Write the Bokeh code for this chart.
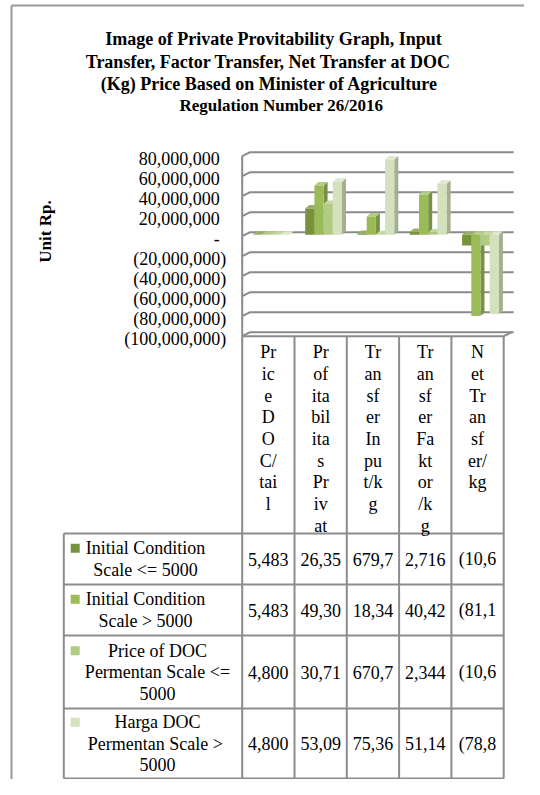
import math
from bokeh.plotting import figure
from bokeh.models import Range1d
from bokeh.core.properties import value
from bokeh.embed import file_html
from bokeh.resources import INLINE

# ---------------- data ----------------
TITLE_LINES = [
    "Image of Private Provitability Graph, Input",
    "Transfer, Factor Transfer, Net Transfer at DOC",
    "(Kg) Price Based on Minister of Agriculture",
    "Regulation Number  26/2016",
]
Y_AXIS_LABEL = "Unit Rp."
CATEGORIES = ["Price DOC/tail", "Profitabilitas Privat", "Transfer Input/kg",
              "Transfer Faktor/kg", "Net Transfer/kg"]
CATEGORY_LINES = [
    ["Pr", "ic", "e", "D", "O", "C/", "tai", "l"],
    ["Pr", "of", "ita", "bil", "ita", "s", "Pr", "iv", "at"],
    ["Tr", "an", "sf", "er", "In", "pu", "t/k", "g"],
    ["Tr", "an", "sf", "er", "Fa", "kt", "or", "/k", "g"],
    ["N", "et", "Tr", "an", "sf", "er/", "kg"],
]
SERIES_NAMES = ["Initial Condition Scale <= 5000", "Initial Condition Scale > 5000",
                "Price of DOC Permentan Scale <= 5000", "Harga DOC Permentan  Scale > 5000"]
SERIES_LINES = [
    ["Initial Condition", "Scale <= 5000"],
    ["Initial Condition", "Scale > 5000"],
    ["Price of DOC", "Permentan Scale <=", "5000"],
    ["Harga DOC", "Permentan  Scale >", "5000"],
]
INITIAL_LE_5000 = [5483, 26353000, 679700, 2716000, -10630000]
INITIAL_GT_5000 = [5483, 49305000, 18345000, 40425000, -81150000]
PERMENTAN_LE_5000 = [4800, 30715000, 670700, 2344000, -10610000]
PERMENTAN_GT_5000 = [4800, 53095000, 75365000, 51145000, -78850000]
SERIES_VALUES = [INITIAL_LE_5000, INITIAL_GT_5000, PERMENTAN_LE_5000, PERMENTAN_GT_5000]
Y_TICKS = [80e6, 60e6, 40e6, 20e6, 0, -20e6, -40e6, -60e6, -80e6, -100e6]

# ---------------- style / layout ----------------
SERIES_COLORS = ["#77933C", "#9BBB59", "#B2CB84", "#D3E1BC"]
GRID_COLOR = "#8A8A8A"
FONT = "Liberation Serif"
W, H = 524, 779
VPP = 1e6            # value units per screen pixel in the chart
ZERO_Y = 235.7       # screen y of value 0 on the front plane
X0 = 241.7           # front-left x of the plot floor
COLW = 52.3          # category column width
DX, DY = 8, 4        # depth offset of the back wall
GOFF = 10.7          # first bar offset inside a column
BAR_W = 9.2
BDX, BDY = 4, 3.5    # bar depth
BAR_LIFT = 1.4
TABLE_LEFT = 63.3
ROW_EDGES = [533, 584, 635, 708, 778]
ROW_TEXT_X = [145, 145, 157, 157]
LINE_H = 21.3
TITLE_X = [273, 268, 269, 283]
TITLE_Y = [38.3, 61, 83.3, 105]
TITLE_SIZES = ["18px", "18px", "18px", "17px"]


def shade(hex_color, f):
    r, g, b = int(hex_color[1:3], 16), int(hex_color[3:5], 16), int(hex_color[5:7], 16)
    if f >= 0:
        r, g, b = [int(c + (255 - c) * f) for c in (r, g, b)]
    else:
        r, g, b = [int(c * (1 + f)) for c in (r, g, b)]
    return "#%02X%02X%02X" % (r, g, b)


def acct(v):
    if v == 0:
        return "-"
    s = f"{abs(v):,.0f}"
    return f"({s})" if v < 0 else s


p = figure(width=W, height=H, x_range=Range1d(0, W), y_range=Range1d(H, 0),
           output_backend="svg", toolbar_location=None, x_axis_type=None,
           y_axis_type=None, min_border=0, outline_line_color=None)
p.extra_y_ranges = {"val": Range1d(start=(ZERO_Y - H) * VPP, end=ZERO_Y * VPP)}
p.background_fill_color = "white"
p.border_fill_color = "white"

ncat = len(CATEGORIES)
XR = X0 + ncat * COLW
vmin, vmax = min(Y_TICKS), max(Y_TICKS)

# outer border (left + top)
p.line(x=[11, 11], y=[5, H], line_color="#9A9A9A", line_width=2)
p.line(x=[11, W], y=[5, 5], line_color="#9A9A9A", line_width=2)

# title
for tx, ty, tt, ts in zip(TITLE_X, TITLE_Y, TITLE_LINES, TITLE_SIZES):
    p.text(x=[tx], y=[ty], text=[tt], text_font=value(FONT), text_font_style="bold",
           text_font_size=value(ts), text_align="center", text_baseline="middle",
           text_color="black")

# y axis label
p.text(x=[45], y=[231], text=[Y_AXIS_LABEL], angle=math.pi / 2,
       text_font=value(FONT), text_font_style="bold", text_font_size=value("17px"),
       text_align="center", text_baseline="middle", text_color="black")

# back-wall gridlines with left-wall diagonals
gx, gy = [], []
for t in Y_TICKS:
    gx.append([X0, X0 + DX, XR + DX + 2])
    gy.append([t, t + DY * VPP, t + DY * VPP])
p.multi_line(xs=gx, ys=gy, line_color=GRID_COLOR, line_width=2, y_range_name="val")
# left wall edge and floor front edge
p.line(x=[X0, X0], y=[vmin, vmax], line_color=GRID_COLOR, line_width=2, y_range_name="val")
p.line(x=[X0, XR, XR + DX], y=[vmin, vmin, vmin + DY * VPP], line_color=GRID_COLOR,
       line_width=2, y_range_name="val")

# tick labels
tl_x = [X0 - 16 - (6.5 if t >= 0 else 0) for t in Y_TICKS]
tl_y = [t - 2.5 * VPP for t in Y_TICKS]
p.text(x=tl_x, y=tl_y, text=[acct(t) for t in Y_TICKS], y_range_name="val",
       text_font=value(FONT), text_font_size=value("18px"), text_align="right",
       text_baseline="middle", text_color="black")

# 3D bars
for j, vals in enumerate(SERIES_VALUES):
    col = SERIES_COLORS[j]
    fl, fr, fb, ft = [], [], [], []
    sxs, sys, txs, tys = [], [], [], []
    for i, v in enumerate(vals):
        xl = X0 + i * COLW + GOFF + j * BAR_W
        xr = xl + BAR_W
        top = max(v, 0) + BAR_LIFT * VPP
        bot = min(v, 0) + BAR_LIFT * VPP
        fl.append(xl); fr.append(xr); fb.append(bot); ft.append(top)
        sxs.append([xr, xr + BDX, xr + BDX, xr])
        sys.append([bot, bot + BDY * VPP, top + BDY * VPP, top])
        txs.append([xl, xr, xr + BDX, xl + BDX])
        tys.append([top, top, top + BDY * VPP, top + BDY * VPP])
    p.patches(xs=sxs, ys=sys, fill_color=shade(col, -0.22), line_color=None, y_range_name="val")
    p.patches(xs=txs, ys=tys, fill_color=shade(col, 0.25), line_color=None, y_range_name="val")
    p.quad(left=fl, right=fr, bottom=fb, top=ft, fill_color=col, line_color=None,
           y_range_name="val")

# ---------------- data table ----------------
TBL = "#8C8C8C"
col_x = [X0 + k * COLW for k in range(ncat + 1)]
floor_front = ZERO_Y - vmin / VPP
vx, vy = [], []
for cx in col_x:
    vx.append([cx, cx]); vy.append([floor_front, ROW_EDGES[-1]])
vx.append([TABLE_LEFT, TABLE_LEFT]); vy.append([ROW_EDGES[0], ROW_EDGES[-1]])
for ry in ROW_EDGES:
    vx.append([TABLE_LEFT, XR]); vy.append([ry, ry])
p.multi_line(xs=vx, ys=vy, line_color=TBL, line_width=2)

# header (category names, wrapped)
hx, hy, ht = [], [], []
for i, lines in enumerate(CATEGORY_LINES):
    for k, s in enumerate(lines):
        hx.append(X0 + (i + 0.5) * COLW); hy.append(351.7 + k * 21.67); ht.append(s)
p.text(x=hx, y=hy, text=ht, text_font=value(FONT), text_font_size=value("18px"),
       text_align="center", text_baseline="middle", text_color="black")

# rows
rx, ry_, rt = [], [], []
cx_, cy_, ct = [], [], []
sq_x, sq_y = [], []
for j, lines in enumerate(SERIES_LINES):
    r0, r1 = ROW_EDGES[j], ROW_EDGES[j + 1]
    rc = (r0 + r1) / 2
    first = rc - (len(lines) - 1) * LINE_H / 2
    for k, s in enumerate(lines):
        rx.append(ROW_TEXT_X[j]); ry_.append(first + k * LINE_H); rt.append(s)
    sq_x.append(74.7); sq_y.append(first)
    for i, v in enumerate(SERIES_VALUES[j]):
        cx_.append(X0 + (i + 0.5) * COLW); cy_.append(rc); ct.append(acct(v)[:5])
p.text(x=rx, y=ry_, text=rt, text_font=value(FONT), text_font_size=value("18px"),
       text_align="center", text_baseline="middle", text_color="black")
p.text(x=cx_, y=cy_, text=ct, text_font=value(FONT), text_font_size=value("18px"),
       text_align="center", text_baseline="middle", text_color="black")
p.rect(x=sq_x, y=sq_y, width=9, height=9, fill_color=SERIES_COLORS, line_color=None)

open("out.html", "w").write(file_html(p, INLINE))
